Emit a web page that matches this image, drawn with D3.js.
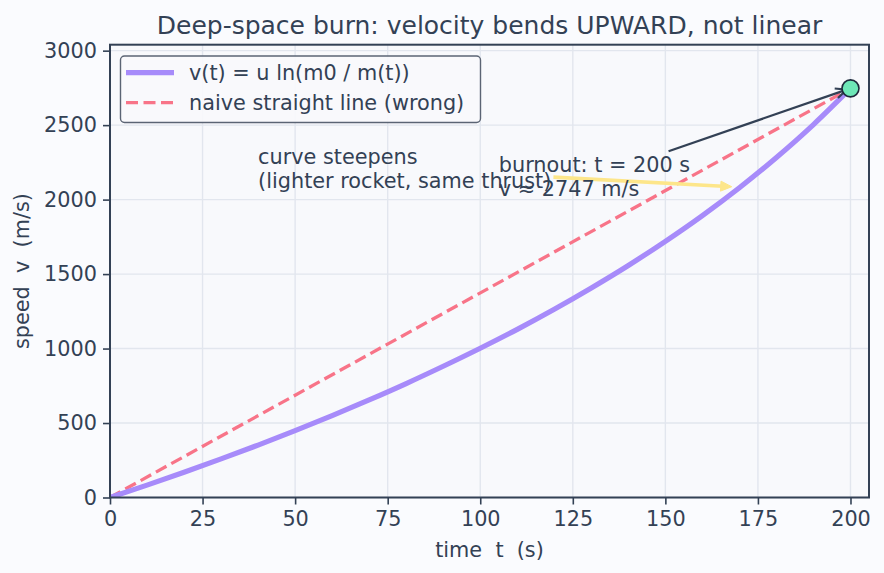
<!DOCTYPE html>
<html>
<head>
<meta charset="utf-8">
<script src="https://cdn.jsdelivr.net/npm/d3@7"></script>
<style>
  body { margin: 0; background: #fafbfe; }
  svg { display: block; font-family: "DejaVu Sans", sans-serif; }
</style>
</head>
<body>
<script>
// burn data
const timeS = [0, 10, 20, 30, 40, 50, 60, 70, 80, 90, 100, 110, 120, 130, 140, 150, 160, 170, 180, 190, 200];
const speedMs = [0, 83, 170, 259, 352, 449, 550, 655, 765, 881, 1002, 1129, 1264, 1407, 1558, 1720, 1893, 2080, 2283, 2504, 2747];
const naiveT = [0, 200];
const naiveV = [0, 2747];
const burnT = 200, burnV = 2747;
const xTicks = [0, 25, 50, 75, 100, 125, 150, 175, 200];
const yTicks = [0, 500, 1000, 1500, 2000, 2500, 3000];
const legendLabels = ["v(t) = u ln(m0 / m(t))", "naive straight line (wrong)"];
const noteSteep = {lines: ["curve steepens", "(lighter rocket, same thrust)"], at: [40, 2080], to: [169, 2085]};
const noteBurn = {lines: ["burnout: t = 200 s", "v ≈ 2747 m/s"], at: [105, 2027], to: [burnT, burnV]};

let width = 884, height = 573;
let margin = ({top: 44.7, right: 15, bottom: 75.5, left: 110});
let ink = "#334155";
let fs = 20.8;

let svg = d3.select("body").append("svg").attr("width", width).attr("height", height);

let x = d3.scaleLinear().domain([0, 205]).range([margin.left, width - margin.right]);
let y = d3.scaleLinear().domain([0, 3040]).range([height - margin.bottom, margin.top]);

svg.append("rect").attr("width", width).attr("height", height).attr("fill", "#fafbfe");
svg.append("rect")
    .attr("x", x(0)).attr("y", y(3040))
    .attr("width", x(205) - x(0)).attr("height", y(0) - y(3040))
    .attr("fill", "#f8f9fc");

// grid
let grid = svg.append("g").attr("stroke", "#e2e6ee").attr("stroke-width", 1.4);
grid.selectAll(".gx").data(xTicks).join("line")
    .attr("x1", d => x(d)).attr("x2", d => x(d))
    .attr("y1", y(0)).attr("y2", y(3040));
grid.selectAll(".gy").data(yTicks).join("line")
    .attr("y1", d => y(d)).attr("y2", d => y(d))
    .attr("x1", x(0)).attr("x2", x(205));

svg.append("defs").append("clipPath").attr("id", "clip")
    .append("rect")
    .attr("x", x(0)).attr("y", y(3040))
    .attr("width", x(205) - x(0)).attr("height", y(0) - y(3040));

let plot = svg.append("g").attr("clip-path", "url(#clip)");

let line = d3.line().curve(d3.curveMonotoneX);

plot.append("path")
    .attr("d", line(naiveT.map((t, i) => [x(t), y(naiveV[i])])))
    .attr("fill", "none")
    .attr("stroke", "#f87488")
    .attr("stroke-width", 3.3)
    .attr("stroke-dasharray", "12,5.5");

plot.append("path")
    .attr("d", line(timeS.map((t, i) => [x(t), y(speedMs[i])])))
    .attr("fill", "none")
    .attr("stroke", "#a78bfa")
    .attr("stroke-width", 5.2)
    .attr("stroke-linecap", "butt");

// axes
let xAxis = svg.append("g")
    .attr("transform", `translate(0,${y(0)})`)
    .call(d3.axisBottom(x).tickValues(xTicks).tickSize(7).tickPadding(7));
let yAxis = svg.append("g")
    .attr("transform", `translate(${x(0)},0)`)
    .call(d3.axisLeft(y).tickValues(yTicks).tickFormat(d3.format("d")).tickSize(7).tickPadding(6));
[xAxis, yAxis].forEach(a => {
    a.select(".domain").remove();
    a.selectAll(".tick line").attr("stroke", ink).attr("stroke-width", 1.6);
    a.selectAll(".tick text").attr("fill", ink).attr("font-size", fs).attr("font-family", "DejaVu Sans");
});

// spines
svg.append("rect")
    .attr("x", x(0)).attr("y", y(3040))
    .attr("width", x(205) - x(0)).attr("height", y(0) - y(3040))
    .attr("fill", "none").attr("stroke", ink).attr("stroke-width", 2);

// labels
svg.append("text")
    .attr("x", (x(0) + x(205)) / 2).attr("y", 557)
    .attr("text-anchor", "middle").attr("fill", ink).attr("font-size", fs)
    .attr("xml:space", "preserve")
    .text("time  t  (s)");
svg.append("text")
    .attr("transform", `translate(29,${(y(0) + y(3040)) / 2}) rotate(-90)`)
    .attr("text-anchor", "middle").attr("fill", ink).attr("font-size", fs)
    .attr("xml:space", "preserve")
    .text("speed  v  (m/s)");
svg.append("text")
    .attr("x", (x(0) + x(205)) / 2).attr("y", 33.5)
    .attr("text-anchor", "middle").attr("fill", ink).attr("font-size", 25)
    .text("Deep-space burn: velocity bends UPWARD, not linear");

// legend
let lg = svg.append("g");
lg.append("rect")
    .attr("x", 120.5).attr("y", 56).attr("width", 360).attr("height", 66.5)
    .attr("rx", 4).attr("fill", "#f8f9fc").attr("fill-opacity", 0.92)
    .attr("stroke", "#5b6474").attr("stroke-width", 1.4);
let rows = lg.selectAll("g.row").data(legendLabels).join("g")
    .attr("transform", (d, i) => `translate(0,${72.7 + i * 30})`);
rows.append("line")
    .attr("x1", 126).attr("x2", 174)
    .attr("stroke", (d, i) => i === 0 ? "#a78bfa" : "#f87488")
    .attr("stroke-width", (d, i) => i === 0 ? 5.2 : 3.3)
    .attr("stroke-dasharray", (d, i) => i === 0 ? null : "12,5.5");
rows.append("text")
    .attr("x", 189).attr("dy", "0.36em")
    .attr("fill", ink).attr("font-size", fs)
    .text(d => d);

// annotations
function note(n, color, width, filled) {
    let g = svg.append("g");
    let arrow = g.append("g");
    let t = g.append("text").attr("fill", ink).attr("font-size", fs);
    let lh = fs * 1.12;
    t.selectAll("tspan").data(n.lines).join("tspan")
        .attr("x", x(n.at[0]))
        .attr("y", (d, i) => y(n.at[1]) - (n.lines.length - 1 - i) * lh)
        .text(d => d);
    let b = t.node().getBBox();
    let cx = b.x + b.width / 2, cy = b.y + b.height / 2;
    let tx = x(n.to[0]), ty = y(n.to[1]);
    let dx = tx - cx, dy = ty - cy;
    let s = Math.min(
        dx !== 0 ? (b.width / 2 + 2) / Math.abs(dx) : Infinity,
        dy !== 0 ? (b.height / 2 + 2) / Math.abs(dy) : Infinity);
    let sx = cx + dx * s, sy = cy + dy * s;
    let len = Math.hypot(tx - sx, ty - sy);
    let ux = (tx - sx) / len, uy = (ty - sy) / len;
    let ex = tx - ux * 4, ey = ty - uy * 4;
    let hl = 11, hw = 5;
    let bx = ex - ux * hl, by = ey - uy * hl;
    let p1 = [bx - uy * hw, by + ux * hw], p2 = [bx + uy * hw, by - ux * hw];
    if (filled) {
        arrow.append("line")
            .attr("x1", sx).attr("y1", sy).attr("x2", bx + ux * 2).attr("y2", by + uy * 2)
            .attr("stroke", color).attr("stroke-width", width);
        arrow.append("path")
            .attr("d", `M${p1}L${ex},${ey}L${p2}Z`)
            .attr("fill", color).attr("stroke", color).attr("stroke-width", 1);
    } else {
        arrow.append("line")
            .attr("x1", sx).attr("y1", sy).attr("x2", ex).attr("y2", ey)
            .attr("stroke", color).attr("stroke-width", width);
        arrow.append("path")
            .attr("d", `M${p1}L${ex},${ey}L${p2}`)
            .attr("fill", "none").attr("stroke", color).attr("stroke-width", width)
            .attr("stroke-linejoin", "miter");
    }
}
note(noteSteep, "#fde68a", 3.6, true);
note(noteBurn, "#334155", 2.2, false);

// burnout marker
svg.append("circle")
    .attr("cx", x(burnT)).attr("cy", y(burnV)).attr("r", 8.5)
    .attr("fill", "#6ee7b7").attr("stroke", "#1e293b").attr("stroke-width", 1.6);
</script>
</body>
</html>
